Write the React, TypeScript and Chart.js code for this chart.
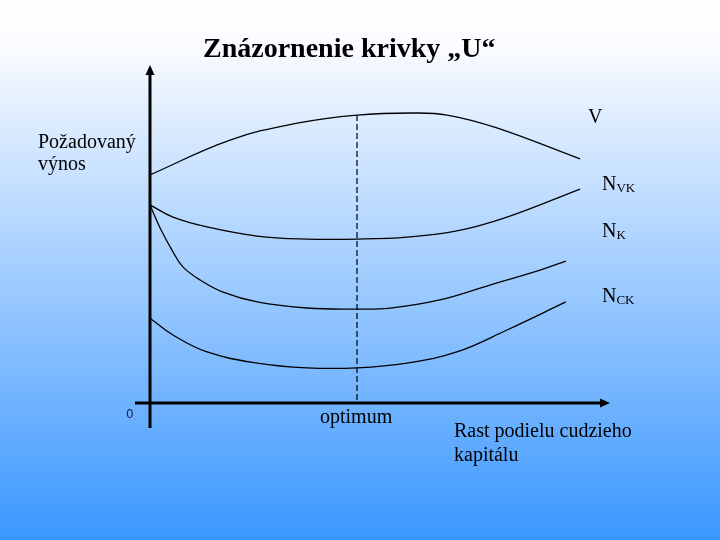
import React, { useEffect, useRef } from "react";
import { Chart, registerables } from "chart.js";

Chart.register(...registerables);

// Data (x: share of foreign capital, y: required return), arbitrary units 0..100
const curveV_x = [0, 17.4, 32, 45, 57.2, 64.6, 75.4, 93.5];
const curveV_y = [67.5, 77.8, 82.8, 85.2, 85.8, 85.2, 81.4, 72.2];

const curveNVK_x = [0, 5, 12.4, 23.3, 34.1, 45, 55.9, 66.7, 77.6, 93.5];
const curveNVK_y = [58.6, 55.0, 52.1, 49.4, 48.5, 48.5, 49.1, 50.9, 55.0, 63.3];

const curveNK_x = [0, 2.2, 5, 7.2, 10.9, 15.9, 23.3, 34.1, 45, 52.2, 63, 73.9, 84.8, 90.4];
const curveNK_y = [58.6, 51.8, 44.7, 40.2, 36.4, 32.8, 29.9, 28.1, 27.8, 28.1, 30.5, 34.9, 39.3, 42.0];

const curveNCK_x = [0, 5, 12.4, 23.3, 34.1, 45, 55.9, 66.7, 77.6, 90.4];
const curveNCK_y = [25.1, 20.1, 15.1, 11.8, 10.4, 10.4, 11.8, 15.1, 21.6, 29.9];

const optimumX = 45;
const optimumTop = 85.2;

const titleText = "Znázornenie krivky „U“";
const yAxisLabel = ["Požadovaný", "výnos"];
const xAxisLabel = ["Rast podielu cudzieho", "kapitálu"];
const optimumLabel = "optimum";
const originLabel = "0";
const curveLabels = [
  { main: "V", sub: "" },
  { main: "N", sub: "VK" },
  { main: "N", sub: "K" },
  { main: "N", sub: "CK" },
];

const toPts = (xs: number[], ys: number[]) => xs.map((x, i) => ({ x, y: ys[i] }));

const serif = '"Liberation Serif", "Times New Roman", serif';

const decorPlugin = {
  id: "decor",
  beforeDraw(chart: any) {
    const { ctx, width, height } = chart;
    const g = ctx.createLinearGradient(0, 0, 0, height);
    g.addColorStop(0, "#ffffff");
    g.addColorStop(0.08, "#fbfcff");
    g.addColorStop(1, "#3a97ff");
    ctx.save();
    ctx.fillStyle = g;
    ctx.fillRect(0, 0, width, height);
    ctx.restore();
  },
  afterDatasetsDraw(chart: any) {
    const { ctx } = chart;
    const xs = chart.scales.x;
    const ys = chart.scales.y;
    const x0 = xs.getPixelForValue(0);
    const y0 = ys.getPixelForValue(0);
    const xEnd = xs.getPixelForValue(100);
    const yTop = ys.getPixelForValue(100);
    ctx.save();
    ctx.strokeStyle = "#000000";
    ctx.fillStyle = "#000000";
    ctx.lineWidth = 3;
    // y axis
    ctx.beginPath();
    ctx.moveTo(x0, y0 + 25);
    ctx.lineTo(x0, yTop + 8);
    ctx.stroke();
    // x axis
    ctx.beginPath();
    ctx.moveTo(x0 - 15, y0);
    ctx.lineTo(xEnd - 8, y0);
    ctx.stroke();
    // arrowheads
    ctx.beginPath();
    ctx.moveTo(x0, yTop);
    ctx.lineTo(x0 - 4.5, yTop + 10);
    ctx.lineTo(x0 + 4.5, yTop + 10);
    ctx.closePath();
    ctx.fill();
    ctx.beginPath();
    ctx.moveTo(xEnd, y0);
    ctx.lineTo(xEnd - 10, y0 - 4.5);
    ctx.lineTo(xEnd - 10, y0 + 4.5);
    ctx.closePath();
    ctx.fill();

    // texts
    ctx.textBaseline = "alphabetic";
    ctx.textAlign = "left";
    ctx.font = `bold 28px ${serif}`;
    ctx.fillText(titleText, 203, 57);

    ctx.font = `20px ${serif}`;
    ctx.fillText(yAxisLabel[0], 38, 148);
    ctx.fillText(yAxisLabel[1], 38, 170);

    ctx.fillText(xAxisLabel[0], 454, 437);
    ctx.fillText(xAxisLabel[1], 454, 461);

    ctx.fillText(optimumLabel, 320, 423);

    ctx.fillStyle = "#1a1a50";
    ctx.font = `12px "DejaVu Sans", sans-serif`;
    ctx.fillText(originLabel, 126, 418);

    ctx.fillStyle = "#000000";
    const labelPos = [
      [588, 123],
      [602, 190],
      [602, 237],
      [602, 302],
    ];
    curveLabels.forEach((l, i) => {
      const [lx, ly] = labelPos[i];
      ctx.font = `20px ${serif}`;
      ctx.fillText(l.main, lx, ly);
      if (l.sub) {
        const w = ctx.measureText(l.main).width;
        ctx.font = `13px ${serif}`;
        ctx.fillText(l.sub, lx + w, ly + 2);
      }
    });
    ctx.restore();
  },
};

export default function App() {
  const ref = useRef<HTMLCanvasElement | null>(null);
  useEffect(() => {
    if (!ref.current) return;
    const lineDs = (data: any[]) => ({
      data,
      borderColor: "#000000",
      borderWidth: 1.3,
      pointRadius: 0,
      tension: 0.4,
      fill: false,
      showLine: true,
    });
    const chart = new Chart(ref.current, {
      type: "scatter",
      data: {
        datasets: [
          lineDs(toPts(curveV_x, curveV_y)),
          lineDs(toPts(curveNVK_x, curveNVK_y)),
          lineDs(toPts(curveNK_x, curveNK_y)),
          lineDs(toPts(curveNCK_x, curveNCK_y)),
          {
            data: [
              { x: optimumX, y: optimumTop },
              { x: optimumX, y: 0 },
            ],
            borderColor: "#000000",
            borderWidth: 1.2,
            borderDash: [6, 3],
            pointRadius: 0,
            showLine: true,
            fill: false,
          },
        ],
      },
      options: {
        animation: false,
        responsive: false,
        layout: { padding: { left: 150, right: 110, top: 65, bottom: 137 } },
        plugins: { legend: { display: false }, tooltip: { enabled: false }, title: { display: false } },
        scales: {
          x: { type: "linear", min: 0, max: 100, display: false },
          y: { type: "linear", min: 0, max: 100, display: false },
        },
      },
      plugins: [decorPlugin],
    });
    return () => chart.destroy();
  }, []);
  return (
    <div style={{ position: "absolute", left: 0, top: 0, width: 720, height: 540 }}>
      <canvas ref={ref} width={720} height={540} style={{ display: "block" }} />
    </div>
  );
}
